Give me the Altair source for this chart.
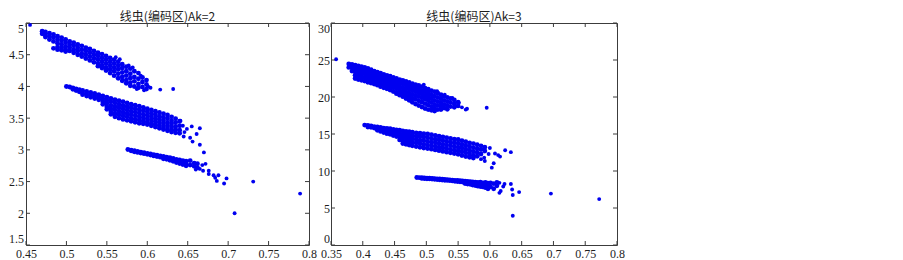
import altair as alt
import pandas as pd

BLUE = "#0000f0"
FRAME = "#3c3c3c"
TEXT = "#1e1e1e"

TITLE_LEFT = "线虫(编码区)Ak=2"
TITLE_RIGHT = "线虫(编码区)Ak=3"

LEFT_X_DOMAIN = [0.45, 0.8]
LEFT_Y_DOMAIN = [1.5, 5]
LEFT_X_TICKS = [0.45, 0.5, 0.55, 0.6, 0.65, 0.7, 0.75, 0.8]
LEFT_Y_TICKS = [1.5, 2, 2.5, 3, 3.5, 4, 4.5, 5]

RIGHT_X_DOMAIN = [0.35, 0.8]
RIGHT_Y_DOMAIN = [0, 30]
RIGHT_X_TICKS = [0.35, 0.4, 0.45, 0.5, 0.55, 0.6, 0.65, 0.7, 0.75, 0.8]
RIGHT_Y_TICKS = [0, 5, 10, 15, 20, 25, 30]

# ---------------- Ak=2 (left panel) ----------------
AK2_TOP_COLS = [
    (0.470, [4.87, 4.83]),
    (0.474, [4.86, 4.81, 4.78]),
    (0.479, [4.84, 4.79, 4.74]),
    (0.484, [4.82, 4.77, 4.71, 4.60]),
    (0.489, [4.79, 4.74, 4.68, 4.62, 4.58]),
    (0.494, [4.77, 4.72, 4.66, 4.61, 4.57]),
    (0.499, [4.74, 4.69, 4.63, 4.58, 4.55]),
    (0.504, [4.71, 4.66, 4.61, 4.56]),
    (0.509, [4.69, 4.64, 4.58, 4.53]),
    (0.514, [4.66, 4.61, 4.56, 4.50]),
    (0.519, [4.64, 4.58, 4.52, 4.47]),
    (0.524, [4.61, 4.56, 4.50, 4.44]),
    (0.529, [4.59, 4.53, 4.47, 4.41]),
    (0.534, [4.56, 4.50, 4.44, 4.38]),
    (0.539, [4.53, 4.48, 4.42, 4.36, 4.32]),
    (0.544, [4.51, 4.45, 4.39, 4.33, 4.29]),
    (0.549, [4.48, 4.42, 4.36, 4.30, 4.25]),
    (0.554, [4.45, 4.39, 4.33, 4.27, 4.21]),
    (0.559, [4.42, 4.36, 4.30, 4.24, 4.17]),
    (0.564, [4.39, 4.33, 4.27, 4.20, 4.13]),
    (0.569, [4.35, 4.29, 4.22, 4.15, 4.09]),
    (0.574, [4.31, 4.24, 4.17, 4.10, 4.05]),
    (0.579, [4.28, 4.20, 4.13, 4.06, 4.01]),
    (0.584, [4.24, 4.15, 4.08, 4.00]),
    (0.589, [4.21, 4.12, 4.04, 3.98]),
    (0.594, [4.14, 4.07, 3.99]),
    (0.599, [4.10, 4.03, 3.96]),
]
AK2_TOP_EXTRA = [(0.455, 4.97), (0.566, 4.43), (0.582, 4.30), (0.592, 4.17),
                 (0.601, 4.00), (0.596, 3.94), (0.587, 3.96), (0.604, 3.98),
                 (0.616, 3.95), (0.632, 3.96), (0.577, 4.33), (0.561, 4.46)]

AK2_MID_COLS = [
    (0.500, [4.00]),
    (0.504, [3.99]),
    (0.508, [3.975, 3.955]),
    (0.512, [3.96, 3.935]),
    (0.516, [3.95, 3.915]),
    (0.520, [3.935, 3.895, 3.87]),
    (0.525, [3.92, 3.88, 3.85]),
    (0.530, [3.905, 3.865, 3.83]),
    (0.535, [3.89, 3.85, 3.81]),
    (0.540, [3.87, 3.83, 3.79]),
    (0.545, [3.85, 3.80, 3.76, 3.72]),
    (0.550, [3.83, 3.78, 3.73, 3.68, 3.64]),
    (0.555, [3.81, 3.76, 3.70, 3.65, 3.60, 3.56]),
    (0.560, [3.79, 3.74, 3.68, 3.63, 3.57, 3.52]),
    (0.565, [3.775, 3.72, 3.665, 3.61, 3.555, 3.50]),
    (0.570, [3.76, 3.70, 3.645, 3.59, 3.535, 3.48]),
    (0.575, [3.74, 3.685, 3.63, 3.575, 3.52, 3.465]),
    (0.580, [3.72, 3.665, 3.61, 3.555, 3.50, 3.45]),
    (0.585, [3.705, 3.65, 3.595, 3.54, 3.485, 3.435]),
    (0.590, [3.69, 3.635, 3.58, 3.525, 3.47, 3.42]),
    (0.595, [3.67, 3.615, 3.56, 3.505, 3.455, 3.41]),
    (0.600, [3.65, 3.60, 3.545, 3.49, 3.44, 3.40]),
    (0.605, [3.63, 3.575, 3.52, 3.47, 3.42, 3.38]),
    (0.610, [3.61, 3.555, 3.50, 3.45, 3.40, 3.36]),
    (0.615, [3.59, 3.53, 3.48, 3.43, 3.385, 3.34]),
    (0.620, [3.57, 3.51, 3.46, 3.41, 3.36, 3.32]),
    (0.625, [3.55, 3.49, 3.43, 3.38, 3.33, 3.30]),
    (0.630, [3.52, 3.46, 3.41, 3.36, 3.31, 3.28]),
    (0.635, [3.49, 3.43, 3.37, 3.32, 3.27]),
    (0.640, [3.45, 3.38, 3.31, 3.26]),
]
AK2_MID_EXTRA = [(0.641, 3.46), (0.649, 3.33), (0.655, 3.37), (0.665, 3.34),
                 (0.645, 3.21), (0.656, 3.13), (0.665, 3.08), (0.670, 2.96),
                 (0.653, 3.19), (0.646, 3.28), (0.661, 3.25), (0.644, 3.38)]

AK2_LOW_COLS = [
    (0.576, [3.005]),
    (0.580, [2.995, 2.985]),
    (0.584, [2.985, 2.97]),
    (0.588, [2.975, 2.96]),
    (0.592, [2.965, 2.95]),
    (0.596, [2.955, 2.94]),
    (0.600, [2.945, 2.93]),
    (0.604, [2.935, 2.92]),
    (0.608, [2.925, 2.905]),
    (0.612, [2.915, 2.895]),
    (0.616, [2.905, 2.885]),
    (0.620, [2.895, 2.875, 2.86]),
    (0.624, [2.885, 2.865, 2.85]),
    (0.628, [2.875, 2.855, 2.835]),
    (0.632, [2.865, 2.84, 2.82]),
    (0.636, [2.85, 2.83, 2.80]),
    (0.640, [2.84, 2.815, 2.785]),
    (0.644, [2.83, 2.80, 2.77]),
    (0.648, [2.82, 2.78, 2.75]),
    (0.653, [2.83, 2.76]),
    (0.658, [2.79, 2.74]),
    (0.662, [2.78, 2.72]),
]
AK2_LOW_EXTRA = [(0.668, 2.76), (0.665, 2.70), (0.669, 2.67), (0.676, 2.62),
                 (0.676, 2.67), (0.682, 2.60), (0.684, 2.56), (0.688, 2.60),
                 (0.686, 2.51), (0.698, 2.55), (0.695, 2.47), (0.731, 2.50),
                 (0.789, 2.31), (0.708, 2.00), (0.672, 2.78), (0.660, 2.69)]

# ---------------- Ak=3 (right panel) ----------------
AK3_TOP_COLS = [
    (0.378, [24.45, 24.0]),
    (0.383, [24.4, 23.95, 23.5]),
    (0.388, [24.3, 23.85, 23.4, 22.95, 22.5]),
    (0.393, [24.2, 23.75, 23.3, 22.85, 22.35]),
    (0.398, [24.1, 23.65, 23.2, 22.7, 22.25]),
    (0.403, [24.0, 23.55, 23.1, 22.6, 22.15]),
    (0.408, [23.85, 23.4, 22.95, 22.5, 22.0]),
    (0.413, [23.7, 23.25, 22.8, 22.35, 21.9]),
    (0.418, [23.5, 23.05, 22.6, 22.15, 21.75]),
    (0.423, [23.35, 22.9, 22.45, 22.0, 21.6]),
    (0.428, [23.2, 22.75, 22.3, 21.85, 21.4]),
    (0.433, [23.05, 22.6, 22.15, 21.7, 21.25]),
    (0.438, [22.9, 22.45, 22.0, 21.55, 21.1]),
    (0.443, [22.8, 22.35, 21.9, 21.4, 20.95]),
    (0.448, [22.65, 22.2, 21.75, 21.25, 20.75]),
    (0.453, [22.5, 22.05, 21.6, 21.1, 20.6, 20.45]),
    (0.458, [22.35, 21.9, 21.45, 20.95, 20.5, 20.25]),
    (0.463, [22.25, 21.8, 21.3, 20.8, 20.35, 20.05]),
    (0.468, [22.1, 21.65, 21.15, 20.65, 20.15, 19.8]),
    (0.473, [21.95, 21.5, 21.0, 20.5, 20.0, 19.55]),
    (0.478, [21.8, 21.35, 20.85, 20.35, 19.85, 19.3]),
    (0.483, [21.65, 21.2, 20.7, 20.2, 19.7, 19.05]),
    (0.488, [21.55, 21.05, 20.55, 20.05, 19.5, 18.85]),
    (0.493, [21.4, 20.9, 20.4, 19.9, 19.3, 18.65]),
    (0.498, [21.2, 20.7, 20.2, 19.7, 19.1, 18.45]),
    (0.503, [21.05, 20.55, 20.0, 19.5, 18.9, 18.3]),
    (0.508, [20.85, 20.3, 19.8, 19.25, 18.7, 18.2]),
    (0.513, [20.7, 20.1, 19.55, 19.0, 18.5, 18.1]),
    (0.518, [20.5, 19.95, 19.4, 18.85, 18.3]),
    (0.523, [20.3, 19.75, 19.2, 18.7, 18.3]),
    (0.528, [20.1, 19.55, 19.0, 18.5]),
    (0.533, [19.95, 19.4, 18.85, 18.35]),
    (0.538, [19.8, 19.25, 18.7]),
    (0.544, [19.6, 19.05, 18.6]),
    (0.550, [19.3, 18.8]),
]
AK3_TOP_EXTRA = [(0.358, 25.1), (0.562, 18.3), (0.595, 18.55), (0.496, 21.65),
                 (0.517, 20.77), (0.529, 20.3), (0.541, 19.88), (0.551, 19.2),
                 (0.564, 18.42), (0.556, 18.6)]

AK3_MID_COLS = [
    (0.403, [16.2]),
    (0.408, [16.15, 15.95]),
    (0.413, [16.1, 15.9]),
    (0.418, [16.0, 15.8]),
    (0.423, [15.95, 15.7, 15.5]),
    (0.428, [15.9, 15.6, 15.35]),
    (0.433, [15.8, 15.5, 15.2]),
    (0.438, [15.75, 15.4, 15.05]),
    (0.443, [15.7, 15.3, 14.95]),
    (0.448, [15.6, 15.2, 14.8]),
    (0.453, [15.55, 15.1, 14.65]),
    (0.458, [15.5, 15.05, 14.6, 14.2]),
    (0.463, [15.4, 14.95, 14.5, 14.05, 13.7]),
    (0.468, [15.35, 14.9, 14.45, 14.0, 13.6]),
    (0.473, [15.3, 14.85, 14.4, 13.95, 13.5]),
    (0.478, [15.25, 14.8, 14.35, 13.9, 13.4]),
    (0.484, [15.15, 14.7, 14.25, 13.8, 13.3]),
    (0.490, [15.1, 14.65, 14.15, 13.7, 13.2]),
    (0.496, [15.05, 14.6, 14.1, 13.6, 13.1]),
    (0.502, [15.0, 14.5, 14.0, 13.5, 13.05]),
    (0.508, [14.9, 14.4, 13.9, 13.4, 12.95]),
    (0.514, [14.8, 14.3, 13.85, 13.35, 12.85]),
    (0.520, [14.7, 14.2, 13.7, 13.2, 12.75]),
    (0.526, [14.6, 14.1, 13.6, 13.1, 12.65]),
    (0.532, [14.5, 14.0, 13.5, 13.0, 12.55]),
    (0.538, [14.4, 13.9, 13.4, 12.9, 12.45]),
    (0.544, [14.3, 13.8, 13.3, 12.8, 12.35]),
    (0.550, [14.25, 13.75, 13.2, 12.7, 12.25]),
    (0.556, [14.1, 13.6, 13.1, 12.6, 12.1]),
    (0.562, [13.95, 13.45, 12.95, 12.45, 11.95]),
    (0.568, [13.8, 13.3, 12.8, 12.3, 11.85]),
    (0.574, [13.7, 13.15, 12.6, 12.1, 11.75]),
    (0.580, [13.55, 13.0, 12.5, 12.0]),
    (0.586, [13.4, 12.9, 12.3]),
    (0.592, [13.2, 12.7]),
]
AK3_MID_EXTRA = [(0.600, 13.1), (0.608, 12.36), (0.624, 12.8), (0.633, 12.55),
                 (0.616, 11.95), (0.613, 12.15), (0.606, 11.05), (0.603, 10.45),
                 (0.592, 11.35), (0.598, 12.3), (0.591, 11.8), (0.586, 11.6)]

AK3_LOW_COLS = [
    (0.485, [9.12]),
    (0.489, [9.10]),
    (0.493, [9.08, 9.0]),
    (0.497, [9.06, 8.98]),
    (0.501, [9.04, 8.96]),
    (0.505, [9.02, 8.94]),
    (0.509, [9.0, 8.91]),
    (0.513, [8.97, 8.88]),
    (0.517, [8.94, 8.85]),
    (0.521, [8.92, 8.82]),
    (0.525, [8.89, 8.79]),
    (0.529, [8.86, 8.76]),
    (0.533, [8.83, 8.73]),
    (0.537, [8.8, 8.7]),
    (0.541, [8.77, 8.66]),
    (0.545, [8.74, 8.62]),
    (0.549, [8.71, 8.58]),
    (0.553, [8.68, 8.54]),
    (0.557, [8.65, 8.5]),
    (0.561, [8.62, 8.46, 8.3]),
    (0.565, [8.58, 8.42, 8.25]),
    (0.569, [8.55, 8.38, 8.2]),
    (0.573, [8.52, 8.3, 8.1]),
    (0.577, [8.5, 8.25, 8.05]),
    (0.581, [8.45, 8.15, 7.95]),
    (0.585, [8.5, 8.1, 7.9]),
    (0.589, [8.4, 8.15, 7.85]),
    (0.593, [8.45, 8.0, 7.75]),
    (0.597, [8.35, 7.95, 7.6]),
    (0.601, [8.4, 7.85]),
    (0.606, [8.3, 7.6]),
    (0.611, [8.45, 8.0]),
]
AK3_LOW_EXTRA = [(0.615, 8.4), (0.623, 8.25), (0.633, 8.25), (0.615, 7.05),
                 (0.617, 7.3), (0.636, 6.75), (0.635, 7.5), (0.646, 7.15),
                 (0.696, 6.95), (0.772, 6.2), (0.636, 3.95), (0.621, 7.9)]


def core_frame(col_sets):
    xs, ys = [], []
    for cols in col_sets:
        for x, yl in cols:
            for y in yl:
                xs.append(x)
                ys.append(y)
    return pd.DataFrame({"x": xs, "y": ys})


def extra_frame(extra_sets):
    xs, ys = [], []
    for extra in extra_sets:
        for x, y in extra:
            xs.append(x)
            ys.append(y)
    return pd.DataFrame({"x": xs, "y": ys})


left_core = core_frame([AK2_TOP_COLS, AK2_MID_COLS, AK2_LOW_COLS])
left_extra = extra_frame([AK2_TOP_EXTRA, AK2_MID_EXTRA, AK2_LOW_EXTRA])
right_core = core_frame([AK3_TOP_COLS, AK3_MID_COLS, AK3_LOW_COLS])
right_extra = extra_frame([AK3_TOP_EXTRA, AK3_MID_EXTRA, AK3_LOW_EXTRA])

LABEL_FONT = "Liberation Serif"
TICK_LEN = 4


def panel(core, extra, title, xdom, ydom, xt, yt, w, h, xfmt, yfmt, ypad):
    xs = alt.Scale(domain=xdom, nice=False, zero=False)
    ys = alt.Scale(domain=ydom, nice=False, zero=False)
    common = dict(title=None, grid=False, domain=False, ticks=False,
                  labelFont=LABEL_FONT, labelFontSize=12, labelColor=TEXT,
                  labelOverlap=False)
    x_axis = alt.Axis(values=xt, format=xfmt, labelFlush=False, labelPadding=3, **common)
    y_axis = alt.Axis(values=yt, format=yfmt, labelFlush=3, labelPadding=ypad, **common)
    dense = alt.Chart(core).mark_circle(size=24, color=BLUE, opacity=1).encode(
        x=alt.X("x:Q", scale=xs, axis=x_axis),
        y=alt.Y("y:Q", scale=ys, axis=y_axis),
    )
    sparse = alt.Chart(extra).mark_circle(size=15, color=BLUE, opacity=1).encode(
        x=alt.X("x:Q", scale=xs, axis=x_axis),
        y=alt.Y("y:Q", scale=ys, axis=y_axis),
    )
    xtd = pd.DataFrame({"t": xt})
    ytd = pd.DataFrame({"t": yt})
    rule = dict(color=FRAME, strokeWidth=1)
    xb = alt.Chart(xtd).mark_rule(**rule).encode(
        x=alt.X("t:Q", scale=xs, axis=x_axis), y=alt.value(h), y2=alt.value(h - TICK_LEN))
    xtop = alt.Chart(xtd).mark_rule(**rule).encode(
        x=alt.X("t:Q", scale=xs, axis=x_axis), y=alt.value(0), y2=alt.value(TICK_LEN))
    yl = alt.Chart(ytd).mark_rule(**rule).encode(
        y=alt.Y("t:Q", scale=ys, axis=y_axis), x=alt.value(0), x2=alt.value(TICK_LEN))
    yr = alt.Chart(ytd).mark_rule(**rule).encode(
        y=alt.Y("t:Q", scale=ys, axis=y_axis), x=alt.value(w - TICK_LEN), x2=alt.value(w))
    return alt.layer(dense, sparse, xb, xtop, yl, yr).properties(
        width=w, height=h,
        title=alt.TitleParams(text=title, font="Noto Sans CJK SC", fontSize=12,
                              fontWeight="normal", color=TEXT, offset=-2,
                              anchor="middle"),
    )


left = panel(left_core, left_extra, TITLE_LEFT, LEFT_X_DOMAIN, LEFT_Y_DOMAIN,
             LEFT_X_TICKS, LEFT_Y_TICKS, 283, 222, ".2~f", ".1~f", 2.5)
right = panel(right_core, right_extra, TITLE_RIGHT, RIGHT_X_DOMAIN, RIGHT_Y_DOMAIN,
              RIGHT_X_TICKS, RIGHT_Y_TICKS, 286, 222, ".2~f", "d", 1.5)

chart = alt.hconcat(left, right, spacing=0).properties(
    padding={"left": 0, "top": 2, "right": 10, "bottom": 0}
).configure_view(stroke=FRAME, strokeWidth=1)

chart.save("out.html", embed_options={"renderer": "svg", "actions": False})
